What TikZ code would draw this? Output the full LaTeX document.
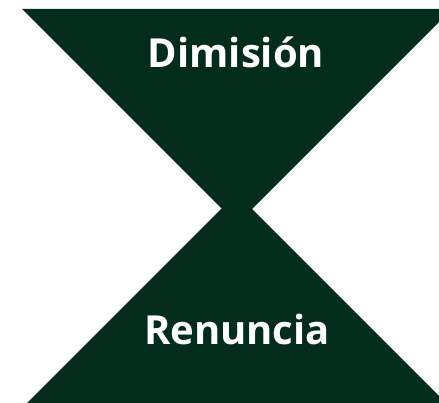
\documentclass[tikz,border=0pt]{standalone}
\usepackage{fontspec}
\setmainfont{Open Sans}
\usetikzlibrary{positioning,calc}
\definecolor{darkgreen}{RGB}{2,45,29}

\begin{document}
\begin{tikzpicture}[
  x=1pt, y=-1pt,
  wedge/.style={
    fill=darkgreen,
    draw=none
  },
  label/.style={
    text=white,
    font=\fontsize{40}{48}\selectfont\bfseries,
    inner sep=0pt
  }
]

% -------- Frame --------
\clip (0,0) rectangle (439,403);
\fill[white] (0,0) rectangle (439,403);

% -------- Upper triangle --------
\fill[wedge] (22,9) -- (452,9) -- (237,224) -- cycle;

% -------- Lower triangle --------
\fill[wedge] (236.5,193.5) -- (451.5,408.5) -- (21.5,408.5) -- cycle;

% -------- Labels --------
\node[label, anchor=base] (top) at (236,68) {Dimisión};
\node[label, anchor=base] (bottom) at (237,344) {Renuncia};

\end{tikzpicture}
\end{document}
